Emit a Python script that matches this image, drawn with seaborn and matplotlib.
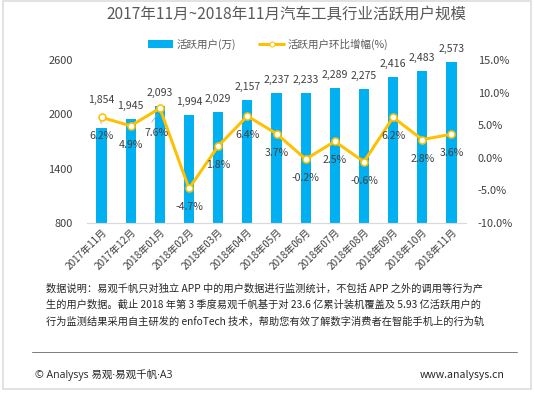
import matplotlib
matplotlib.use("Agg")
import matplotlib.pyplot as plt
import seaborn as sns
import numpy as np
import pandas as pd
from matplotlib.patches import Rectangle, Patch
from matplotlib.lines import Line2D

months = ["2017年11月", "2017年12月", "2018年01月", "2018年02月", "2018年03月",
          "2018年04月", "2018年05月", "2018年06月", "2018年07月", "2018年08月",
          "2018年09月", "2018年10月", "2018年11月"]
active_users = [1854, 1945, 2093, 1994, 2029, 2157, 2237, 2233, 2289, 2275, 2416, 2483, 2573]
growth = [6.2, 4.9, 7.6, -4.7, 1.8, 6.4, 3.7, -0.2, 2.5, -0.6, 6.2, 2.8, 3.6]
left_ticks = [800, 1400, 2000, 2600]
right_ticks = [-10, -5, 0, 5, 10, 15]

title = "2017年11月~2018年11月汽车工具行业活跃用户规模"
bar_name = "活跃用户(万)"
line_name = "活跃用户环比增幅(%)"
note = ("数据说明：易观千帆只对独立 APP 中的用户数据进行监测统计，不包括 APP 之外的调用等行为产\n"
        "生的用户数据。截止 2018 年第 3 季度易观千帆基于对 23.6 亿累计装机覆盖及 5.93 亿活跃用户的\n"
        "行为监测结果采用自主研发的 enfoTech 技术，帮助您有效了解数字消费者在智能手机上的行为轨")
footer_left = "© Analysys 易观·易观千帆·A3"
footer_right = "www.analysys.cn"

BLUE = "#00B0F0"
GOLD = "#FFC000"
TXT = "#404040"

sns.set_theme(style="white")
plt.rcParams['font.family'] = ['Noto Sans CJK SC', 'DejaVu Sans']

W, H = 534, 393
DPI = 72
fig = plt.figure(figsize=(W / DPI, H / DPI), dpi=DPI)

ax = fig.add_axes([87 / W, 1 - 223 / H, (466 - 87) / W, (223 - 60) / H])
df = pd.DataFrame({"month": months, "users": active_users, "growth": growth})
sns.barplot(data=df, x="month", y="users", color=BLUE, width=0.35, ax=ax,
            saturation=1, edgecolor="none")
ax.set_ylim(800, 2600)
ax.set_xlim(-0.5, 12.5)
ax.set_yticks(left_ticks)
ax.set_xlabel("")
ax.set_ylabel("")
for s in ["top", "right", "left"]:
    ax.spines[s].set_visible(False)
ax.spines["bottom"].set_color("#D9D9D9")
ax.spines["bottom"].set_linewidth(1.2)
ax.tick_params(axis="y", length=0, pad=14, labelsize=11, labelcolor=TXT)
ax.tick_params(axis="x", length=0, pad=4, labelsize=10, labelcolor=TXT)
for lab in ax.get_xticklabels():
    lab.set_rotation(45)
    lab.set_ha("right")
    lab.set_rotation_mode("anchor")

ax2 = ax.twinx()
sns.lineplot(x=np.arange(len(growth)), y=growth, ax=ax2, color=GOLD, linewidth=3,
             marker="o", markersize=7, markerfacecolor="white", markeredgecolor=GOLD,
             markeredgewidth=1.6)
ax2.set_ylim(-10, 15)
ax2.set_yticks(right_ticks)
ax2.set_yticklabels([f"{v:.1f}%" for v in right_ticks])
ax2.set_xlim(-0.5, 12.5)
for s in ["top", "right", "left", "bottom"]:
    ax2.spines[s].set_visible(False)
ax2.tick_params(axis="y", length=0, pad=12, labelsize=11, labelcolor=TXT)
ax2.set_ylabel("")

# bar value labels
for i, v in enumerate(active_users):
    off = 28 if i == 0 else 13
    ax.annotate(f"{v:,}", (i, v), xytext=(0, off), textcoords="offset points",
                ha="center", va="center", fontsize=10.5, color=TXT)
# line value labels
for i, g in enumerate(growth):
    off = -25 if i == 2 else -19
    dx = -3 if i == 2 else 0
    ax2.annotate(f"{g:.1f}%", (i, g), xytext=(dx, off), textcoords="offset points",
                 ha="center", va="center", fontsize=10.5, color=TXT)
# leader lines
ax.annotate("", xy=(0.0, active_users[0] + 20), xytext=(-0.07, active_users[0] + 145),
            arrowprops=dict(arrowstyle="-", color="#A6A6A6", lw=0.8))
ax2.annotate("", xy=(2 - 0.05, growth[2] - 0.7), xytext=(2 - 0.32, growth[2] - 2.4),
             arrowprops=dict(arrowstyle="-", color="#A6A6A6", lw=0.8))

# title & legend
fig.text(286 / W, 1 - 15 / H, title, ha="center", va="center", fontsize=15.5, color="#595959")
handles = [Patch(facecolor=BLUE, edgecolor="none"),
           Line2D([0], [0], color=GOLD, lw=3, marker="o", markersize=5,
                  markerfacecolor="white", markeredgecolor=GOLD)]
fig.legend(handles, [bar_name, line_name], loc="center", ncol=2, frameon=False,
           bbox_to_anchor=(268 / W, 1 - 44 / H), fontsize=10.5, handlelength=2.4,
           handletextpad=0.3, columnspacing=2.2, labelcolor="#595959")

# footer
fig.text(46 / W, 1 - 305 / H, note, ha="left", va="center", fontsize=10.2, color="#262626",
         linespacing=1.75)
fig.add_artist(Line2D([32 / W, 517 / W], [1 - 352 / H, 1 - 352 / H], color="#808080", lw=1))
fig.text(35 / W, 1 - 375 / H, footer_left, ha="left", va="center", fontsize=10.5, color="#262626",
         family=["Open Sans", "Noto Sans CJK SC"])
fig.text(505 / W, 1 - 375 / H, footer_right, ha="right", va="center", fontsize=10.5, color="#262626")

# outer frame
fig.add_artist(Rectangle((2.5 / W, 1 - 389 / H), (531 - 2.5) / W, (389 - 1.3) / H,
                         transform=fig.transFigure, fill=False, edgecolor="#D9D9D9", lw=1.5))

fig.savefig("out.png", dpi=DPI)
